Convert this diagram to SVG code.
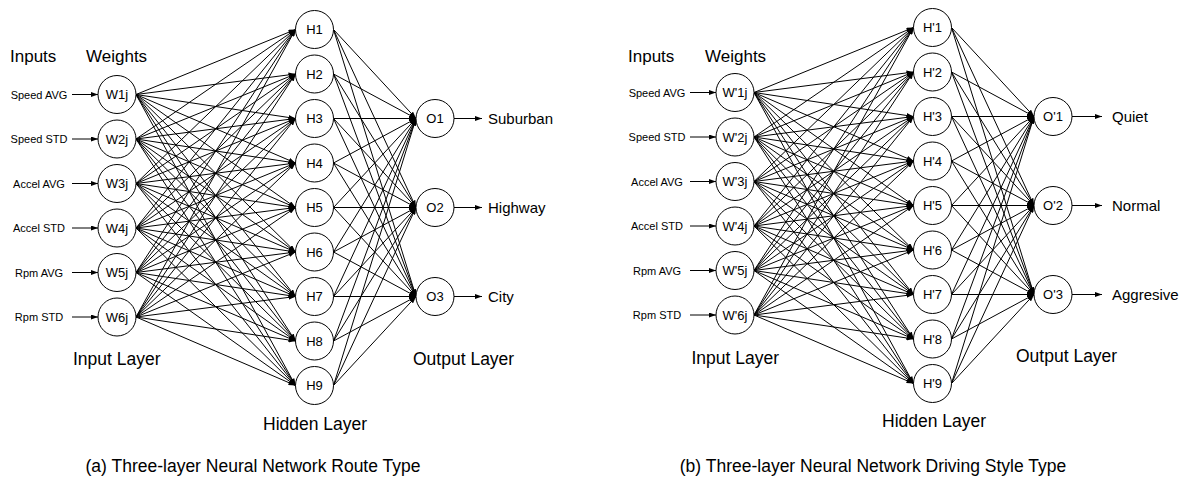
<svg xmlns="http://www.w3.org/2000/svg" width="1184" height="479" viewBox="0 0 1184 479">
<style>
text{font-family:"Liberation Sans",Arial,sans-serif;fill:#000}
.n circle{fill:#fff;stroke:#000;stroke-width:1}
.n text{font-size:13px;text-anchor:middle}
.c line{stroke:#000;stroke-width:1;marker-end:url(#ah)}
.in{font-size:11px;text-anchor:middle}
.out{font-size:15px}
.hd{font-size:17px}
.lay{font-size:17.5px}
.cap{font-size:17.5px;text-anchor:middle}
</style>
<defs>
<marker id="ah" markerWidth="7" markerHeight="5" refX="7" refY="2.5" orient="auto" markerUnits="userSpaceOnUse"><path d="M0,0 L7,2.5 L0,5 z" fill="#000"/></marker>
</defs>
<rect width="1184" height="479" fill="#fff"/>

<!-- Panel A -->
<g id="panel-a">
<g id="conn-a" class="c">
<line x1="72" y1="94.5" x2="98" y2="94.5"/><line x1="72" y1="139" x2="98" y2="139"/><line x1="72" y1="183.5" x2="98" y2="183.5"/><line x1="72" y1="228" x2="98" y2="228"/><line x1="72" y1="272.5" x2="98" y2="272.5"/><line x1="72" y1="317" x2="98" y2="317"/>
<line x1="136" y1="94.5" x2="295.5" y2="29.5"/><line x1="136" y1="94.5" x2="295.5" y2="74"/><line x1="136" y1="94.5" x2="295.5" y2="118.5"/><line x1="136" y1="94.5" x2="295.5" y2="163"/><line x1="136" y1="94.5" x2="295.5" y2="207.5"/><line x1="136" y1="94.5" x2="295.5" y2="252"/><line x1="136" y1="94.5" x2="295.5" y2="296.5"/><line x1="136" y1="94.5" x2="295.5" y2="341"/><line x1="136" y1="94.5" x2="295.5" y2="385.5"/>
<line x1="136" y1="139" x2="295.5" y2="29.5"/><line x1="136" y1="139" x2="295.5" y2="74"/><line x1="136" y1="139" x2="295.5" y2="118.5"/><line x1="136" y1="139" x2="295.5" y2="163"/><line x1="136" y1="139" x2="295.5" y2="207.5"/><line x1="136" y1="139" x2="295.5" y2="252"/><line x1="136" y1="139" x2="295.5" y2="296.5"/><line x1="136" y1="139" x2="295.5" y2="341"/><line x1="136" y1="139" x2="295.5" y2="385.5"/>
<line x1="136" y1="183.5" x2="295.5" y2="29.5"/><line x1="136" y1="183.5" x2="295.5" y2="74"/><line x1="136" y1="183.5" x2="295.5" y2="118.5"/><line x1="136" y1="183.5" x2="295.5" y2="163"/><line x1="136" y1="183.5" x2="295.5" y2="207.5"/><line x1="136" y1="183.5" x2="295.5" y2="252"/><line x1="136" y1="183.5" x2="295.5" y2="296.5"/><line x1="136" y1="183.5" x2="295.5" y2="341"/><line x1="136" y1="183.5" x2="295.5" y2="385.5"/>
<line x1="136" y1="228" x2="295.5" y2="29.5"/><line x1="136" y1="228" x2="295.5" y2="74"/><line x1="136" y1="228" x2="295.5" y2="118.5"/><line x1="136" y1="228" x2="295.5" y2="163"/><line x1="136" y1="228" x2="295.5" y2="207.5"/><line x1="136" y1="228" x2="295.5" y2="252"/><line x1="136" y1="228" x2="295.5" y2="296.5"/><line x1="136" y1="228" x2="295.5" y2="341"/><line x1="136" y1="228" x2="295.5" y2="385.5"/>
<line x1="136" y1="272.5" x2="295.5" y2="29.5"/><line x1="136" y1="272.5" x2="295.5" y2="74"/><line x1="136" y1="272.5" x2="295.5" y2="118.5"/><line x1="136" y1="272.5" x2="295.5" y2="163"/><line x1="136" y1="272.5" x2="295.5" y2="207.5"/><line x1="136" y1="272.5" x2="295.5" y2="252"/><line x1="136" y1="272.5" x2="295.5" y2="296.5"/><line x1="136" y1="272.5" x2="295.5" y2="341"/><line x1="136" y1="272.5" x2="295.5" y2="385.5"/>
<line x1="136" y1="317" x2="295.5" y2="29.5"/><line x1="136" y1="317" x2="295.5" y2="74"/><line x1="136" y1="317" x2="295.5" y2="118.5"/><line x1="136" y1="317" x2="295.5" y2="163"/><line x1="136" y1="317" x2="295.5" y2="207.5"/><line x1="136" y1="317" x2="295.5" y2="252"/><line x1="136" y1="317" x2="295.5" y2="296.5"/><line x1="136" y1="317" x2="295.5" y2="341"/><line x1="136" y1="317" x2="295.5" y2="385.5"/>
<line x1="333.5" y1="29.5" x2="416" y2="118.5"/><line x1="333.5" y1="29.5" x2="416" y2="207.5"/><line x1="333.5" y1="29.5" x2="416" y2="296.5"/>
<line x1="333.5" y1="74" x2="416" y2="118.5"/><line x1="333.5" y1="74" x2="416" y2="207.5"/><line x1="333.5" y1="74" x2="416" y2="296.5"/>
<line x1="333.5" y1="118.5" x2="416" y2="118.5"/><line x1="333.5" y1="118.5" x2="416" y2="207.5"/><line x1="333.5" y1="118.5" x2="416" y2="296.5"/>
<line x1="333.5" y1="163" x2="416" y2="118.5"/><line x1="333.5" y1="163" x2="416" y2="207.5"/><line x1="333.5" y1="163" x2="416" y2="296.5"/>
<line x1="333.5" y1="207.5" x2="416" y2="118.5"/><line x1="333.5" y1="207.5" x2="416" y2="207.5"/><line x1="333.5" y1="207.5" x2="416" y2="296.5"/>
<line x1="333.5" y1="252" x2="416" y2="118.5"/><line x1="333.5" y1="252" x2="416" y2="207.5"/><line x1="333.5" y1="252" x2="416" y2="296.5"/>
<line x1="333.5" y1="296.5" x2="416" y2="118.5"/><line x1="333.5" y1="296.5" x2="416" y2="207.5"/><line x1="333.5" y1="296.5" x2="416" y2="296.5"/>
<line x1="333.5" y1="341" x2="416" y2="118.5"/><line x1="333.5" y1="341" x2="416" y2="207.5"/><line x1="333.5" y1="341" x2="416" y2="296.5"/>
<line x1="333.5" y1="385.5" x2="416" y2="118.5"/><line x1="333.5" y1="385.5" x2="416" y2="207.5"/><line x1="333.5" y1="385.5" x2="416" y2="296.5"/>
<line x1="454" y1="118.5" x2="482" y2="118.5"/><line x1="454" y1="207.5" x2="482" y2="207.5"/><line x1="454" y1="296.5" x2="482" y2="296.5"/>
</g>
<g id="a-w1" class="n"><circle cx="117" cy="94.5" r="19"/><text x="117" y="99">W1j</text></g>
<g id="a-w2" class="n"><circle cx="117" cy="139" r="19"/><text x="117" y="143.5">W2j</text></g>
<g id="a-w3" class="n"><circle cx="117" cy="183.5" r="19"/><text x="117" y="188">W3j</text></g>
<g id="a-w4" class="n"><circle cx="117" cy="228" r="19"/><text x="117" y="232.5">W4j</text></g>
<g id="a-w5" class="n"><circle cx="117" cy="272.5" r="19"/><text x="117" y="277">W5j</text></g>
<g id="a-w6" class="n"><circle cx="117" cy="317" r="19"/><text x="117" y="321.5">W6j</text></g>
<g id="a-h1" class="n"><circle cx="314.5" cy="29.5" r="19"/><text x="314.5" y="34">H1</text></g>
<g id="a-h2" class="n"><circle cx="314.5" cy="74" r="19"/><text x="314.5" y="78.5">H2</text></g>
<g id="a-h3" class="n"><circle cx="314.5" cy="118.5" r="19"/><text x="314.5" y="123">H3</text></g>
<g id="a-h4" class="n"><circle cx="314.5" cy="163" r="19"/><text x="314.5" y="167.5">H4</text></g>
<g id="a-h5" class="n"><circle cx="314.5" cy="207.5" r="19"/><text x="314.5" y="212">H5</text></g>
<g id="a-h6" class="n"><circle cx="314.5" cy="252" r="19"/><text x="314.5" y="256.5">H6</text></g>
<g id="a-h7" class="n"><circle cx="314.5" cy="296.5" r="19"/><text x="314.5" y="301">H7</text></g>
<g id="a-h8" class="n"><circle cx="314.5" cy="341" r="19"/><text x="314.5" y="345.5">H8</text></g>
<g id="a-h9" class="n"><circle cx="314.5" cy="385.5" r="19"/><text x="314.5" y="390">H9</text></g>
<g id="a-o1" class="n"><circle cx="435" cy="118.5" r="19"/><text x="435" y="123">O1</text></g>
<g id="a-o2" class="n"><circle cx="435" cy="207.5" r="19"/><text x="435" y="212">O2</text></g>
<g id="a-o3" class="n"><circle cx="435" cy="296.5" r="19"/><text x="435" y="301">O3</text></g>
<g id="a-labels">
<text class="in" x="39" y="98.5">Speed AVG</text>
<text class="in" x="39" y="143">Speed STD</text>
<text class="in" x="39" y="187.5">Accel AVG</text>
<text class="in" x="39" y="232">Accel STD</text>
<text class="in" x="39" y="276.5">Rpm AVG</text>
<text class="in" x="39" y="321">Rpm STD</text>
<text class="out" x="488" y="124">Suburban</text>
<text class="out" x="488" y="213">Highway</text>
<text class="out" x="488" y="302">City</text>
</g>
</g>

<!-- Panel B -->
<g id="panel-b" transform="translate(618,-2)">
<g id="conn-b" class="c">
<line x1="72" y1="94.5" x2="98" y2="94.5"/><line x1="72" y1="139" x2="98" y2="139"/><line x1="72" y1="183.5" x2="98" y2="183.5"/><line x1="72" y1="228" x2="98" y2="228"/><line x1="72" y1="272.5" x2="98" y2="272.5"/><line x1="72" y1="317" x2="98" y2="317"/>
<line x1="136" y1="94.5" x2="295.5" y2="29.5"/><line x1="136" y1="94.5" x2="295.5" y2="74"/><line x1="136" y1="94.5" x2="295.5" y2="118.5"/><line x1="136" y1="94.5" x2="295.5" y2="163"/><line x1="136" y1="94.5" x2="295.5" y2="207.5"/><line x1="136" y1="94.5" x2="295.5" y2="252"/><line x1="136" y1="94.5" x2="295.5" y2="296.5"/><line x1="136" y1="94.5" x2="295.5" y2="341"/><line x1="136" y1="94.5" x2="295.5" y2="385.5"/>
<line x1="136" y1="139" x2="295.5" y2="29.5"/><line x1="136" y1="139" x2="295.5" y2="74"/><line x1="136" y1="139" x2="295.5" y2="118.5"/><line x1="136" y1="139" x2="295.5" y2="163"/><line x1="136" y1="139" x2="295.5" y2="207.5"/><line x1="136" y1="139" x2="295.5" y2="252"/><line x1="136" y1="139" x2="295.5" y2="296.5"/><line x1="136" y1="139" x2="295.5" y2="341"/><line x1="136" y1="139" x2="295.5" y2="385.5"/>
<line x1="136" y1="183.5" x2="295.5" y2="29.5"/><line x1="136" y1="183.5" x2="295.5" y2="74"/><line x1="136" y1="183.5" x2="295.5" y2="118.5"/><line x1="136" y1="183.5" x2="295.5" y2="163"/><line x1="136" y1="183.5" x2="295.5" y2="207.5"/><line x1="136" y1="183.5" x2="295.5" y2="252"/><line x1="136" y1="183.5" x2="295.5" y2="296.5"/><line x1="136" y1="183.5" x2="295.5" y2="341"/><line x1="136" y1="183.5" x2="295.5" y2="385.5"/>
<line x1="136" y1="228" x2="295.5" y2="29.5"/><line x1="136" y1="228" x2="295.5" y2="74"/><line x1="136" y1="228" x2="295.5" y2="118.5"/><line x1="136" y1="228" x2="295.5" y2="163"/><line x1="136" y1="228" x2="295.5" y2="207.5"/><line x1="136" y1="228" x2="295.5" y2="252"/><line x1="136" y1="228" x2="295.5" y2="296.5"/><line x1="136" y1="228" x2="295.5" y2="341"/><line x1="136" y1="228" x2="295.5" y2="385.5"/>
<line x1="136" y1="272.5" x2="295.5" y2="29.5"/><line x1="136" y1="272.5" x2="295.5" y2="74"/><line x1="136" y1="272.5" x2="295.5" y2="118.5"/><line x1="136" y1="272.5" x2="295.5" y2="163"/><line x1="136" y1="272.5" x2="295.5" y2="207.5"/><line x1="136" y1="272.5" x2="295.5" y2="252"/><line x1="136" y1="272.5" x2="295.5" y2="296.5"/><line x1="136" y1="272.5" x2="295.5" y2="341"/><line x1="136" y1="272.5" x2="295.5" y2="385.5"/>
<line x1="136" y1="317" x2="295.5" y2="29.5"/><line x1="136" y1="317" x2="295.5" y2="74"/><line x1="136" y1="317" x2="295.5" y2="118.5"/><line x1="136" y1="317" x2="295.5" y2="163"/><line x1="136" y1="317" x2="295.5" y2="207.5"/><line x1="136" y1="317" x2="295.5" y2="252"/><line x1="136" y1="317" x2="295.5" y2="296.5"/><line x1="136" y1="317" x2="295.5" y2="341"/><line x1="136" y1="317" x2="295.5" y2="385.5"/>
<line x1="333.5" y1="29.5" x2="416" y2="118.5"/><line x1="333.5" y1="29.5" x2="416" y2="207.5"/><line x1="333.5" y1="29.5" x2="416" y2="296.5"/>
<line x1="333.5" y1="74" x2="416" y2="118.5"/><line x1="333.5" y1="74" x2="416" y2="207.5"/><line x1="333.5" y1="74" x2="416" y2="296.5"/>
<line x1="333.5" y1="118.5" x2="416" y2="118.5"/><line x1="333.5" y1="118.5" x2="416" y2="207.5"/><line x1="333.5" y1="118.5" x2="416" y2="296.5"/>
<line x1="333.5" y1="163" x2="416" y2="118.5"/><line x1="333.5" y1="163" x2="416" y2="207.5"/><line x1="333.5" y1="163" x2="416" y2="296.5"/>
<line x1="333.5" y1="207.5" x2="416" y2="118.5"/><line x1="333.5" y1="207.5" x2="416" y2="207.5"/><line x1="333.5" y1="207.5" x2="416" y2="296.5"/>
<line x1="333.5" y1="252" x2="416" y2="118.5"/><line x1="333.5" y1="252" x2="416" y2="207.5"/><line x1="333.5" y1="252" x2="416" y2="296.5"/>
<line x1="333.5" y1="296.5" x2="416" y2="118.5"/><line x1="333.5" y1="296.5" x2="416" y2="207.5"/><line x1="333.5" y1="296.5" x2="416" y2="296.5"/>
<line x1="333.5" y1="341" x2="416" y2="118.5"/><line x1="333.5" y1="341" x2="416" y2="207.5"/><line x1="333.5" y1="341" x2="416" y2="296.5"/>
<line x1="333.5" y1="385.5" x2="416" y2="118.5"/><line x1="333.5" y1="385.5" x2="416" y2="207.5"/><line x1="333.5" y1="385.5" x2="416" y2="296.5"/>
<line x1="454" y1="118.5" x2="484" y2="118.5"/><line x1="454" y1="207.5" x2="484" y2="207.5"/><line x1="454" y1="296.5" x2="484" y2="296.5"/>
</g>
<g id="b-w1" class="n"><circle cx="117" cy="94.5" r="19"/><text x="117" y="99">W'1j</text></g>
<g id="b-w2" class="n"><circle cx="117" cy="139" r="19"/><text x="117" y="143.5">W'2j</text></g>
<g id="b-w3" class="n"><circle cx="117" cy="183.5" r="19"/><text x="117" y="188">W'3j</text></g>
<g id="b-w4" class="n"><circle cx="117" cy="228" r="19"/><text x="117" y="232.5">W'4j</text></g>
<g id="b-w5" class="n"><circle cx="117" cy="272.5" r="19"/><text x="117" y="277">W'5j</text></g>
<g id="b-w6" class="n"><circle cx="117" cy="317" r="19"/><text x="117" y="321.5">W'6j</text></g>
<g id="b-h1" class="n"><circle cx="314.5" cy="29.5" r="19"/><text x="314.5" y="34">H'1</text></g>
<g id="b-h2" class="n"><circle cx="314.5" cy="74" r="19"/><text x="314.5" y="78.5">H'2</text></g>
<g id="b-h3" class="n"><circle cx="314.5" cy="118.5" r="19"/><text x="314.5" y="123">H'3</text></g>
<g id="b-h4" class="n"><circle cx="314.5" cy="163" r="19"/><text x="314.5" y="167.5">H'4</text></g>
<g id="b-h5" class="n"><circle cx="314.5" cy="207.5" r="19"/><text x="314.5" y="212">H'5</text></g>
<g id="b-h6" class="n"><circle cx="314.5" cy="252" r="19"/><text x="314.5" y="256.5">H'6</text></g>
<g id="b-h7" class="n"><circle cx="314.5" cy="296.5" r="19"/><text x="314.5" y="301">H'7</text></g>
<g id="b-h8" class="n"><circle cx="314.5" cy="341" r="19"/><text x="314.5" y="345.5">H'8</text></g>
<g id="b-h9" class="n"><circle cx="314.5" cy="385.5" r="19"/><text x="314.5" y="390">H'9</text></g>
<g id="b-o1" class="n"><circle cx="435" cy="118.5" r="19"/><text x="435" y="123">O'1</text></g>
<g id="b-o2" class="n"><circle cx="435" cy="207.5" r="19"/><text x="435" y="212">O'2</text></g>
<g id="b-o3" class="n"><circle cx="435" cy="296.5" r="19"/><text x="435" y="301">O'3</text></g>
<g id="b-labels">
<text class="in" x="39" y="98.5">Speed AVG</text>
<text class="in" x="39" y="143">Speed STD</text>
<text class="in" x="39" y="187.5">Accel AVG</text>
<text class="in" x="39" y="232">Accel STD</text>
<text class="in" x="39" y="276.5">Rpm AVG</text>
<text class="in" x="39" y="321">Rpm STD</text>
<text class="out" x="494" y="124">Quiet</text>
<text class="out" x="494" y="213">Normal</text>
<text class="out" x="494" y="302">Aggresive</text>
</g>
</g>

<g id="titles">
<text class="hd" x="10" y="62">Inputs</text>
<text class="hd" x="86" y="62">Weights</text>
<text class="lay" x="73" y="365">Input Layer</text>
<text class="lay" x="263" y="430">Hidden Layer</text>
<text class="lay" x="413" y="365">Output Layer</text>
<text class="cap" x="253" y="472">(a) Three-layer Neural Network Route Type</text>
<text class="hd" x="628" y="62">Inputs</text>
<text class="hd" x="705" y="62">Weights</text>
<text class="lay" x="691.5" y="364">Input Layer</text>
<text class="lay" x="882" y="427">Hidden Layer</text>
<text class="lay" x="1016" y="362">Output Layer</text>
<text class="cap" x="873" y="472">(b) Three-layer Neural Network Driving Style Type</text>
</g>
</svg>
